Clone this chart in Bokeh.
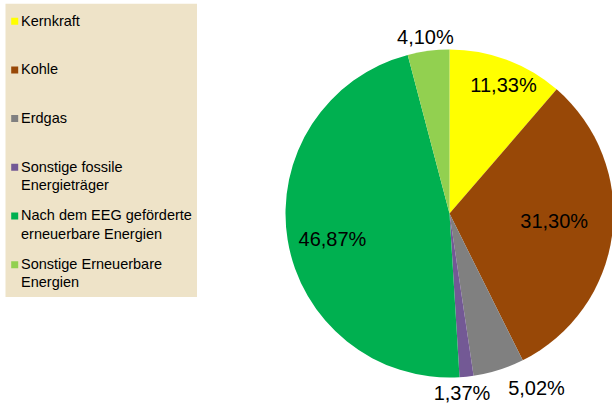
import math
from bokeh.plotting import figure
from bokeh.models import Range1d, ColumnDataSource
from bokeh.core.properties import value
from bokeh.embed import file_html
from bokeh.resources import INLINE

# ---- data ----
categories = ["Kernkraft", "Kohle", "Erdgas", "Sonstige fossile\nEnergieträger",
              "Nach dem EEG geförderte\nerneuerbare Energien", "Sonstige Erneuerbare\nEnergien"]
shares = [11.33, 31.30, 5.02, 1.37, 46.87, 4.10]
share_labels = ["11,33%", "31,30%", "5,02%", "1,37%", "46,87%", "4,10%"]
colors = ["#FFFF00", "#984807", "#808080", "#735995", "#00B050", "#92D050"]

# ---- style / layout ----
W, H = 612, 405
cx, cy, R = 449, 405 - 213, 164          # pie centre (data = page px, y up)
lbl_r = [0.85, 0.64, 1.19, 1.10, 0.73, 1.085]   # label radius factor
lbl_da = [-2.4, 3.2, 9.0, -2.0, 3.0, 0.4]       # angle tweak (deg)
FONT = value("Liberation Sans")

p = figure(width=W, height=H, output_backend="svg", toolbar_location=None,
           x_range=Range1d(0, W), y_range=Range1d(405 - H, 405),
           min_border=0, outline_line_color=None)
p.axis.visible = False
p.grid.visible = False
p.background_fill_color = "white"
p.border_fill_color = "white"

# wedges (clockwise from 12 o'clock)
total = sum(shares)
starts, ends, lx, ly = [], [], [], []
cum = 0.0
for i, s in enumerate(shares):
    a0 = math.pi / 2 - 2 * math.pi * (cum + s) / total
    a1 = math.pi / 2 - 2 * math.pi * cum / total
    starts.append(a0)
    ends.append(a1)
    mid = (a0 + a1) / 2 + math.radians(lbl_da[i])
    lx.append(cx + R * lbl_r[i] * math.cos(mid))
    ly.append(cy + R * lbl_r[i] * math.sin(mid))
    cum += s

src = ColumnDataSource(dict(start=starts, end=ends, color=colors,
                            lx=lx, ly=ly, lab=share_labels))
p.wedge(x=cx, y=cy, radius=R, start_angle="start", end_angle="end",
        fill_color="color", line_color=None, source=src)
p.text(x="lx", y="ly", text="lab", source=src, text_font=FONT,
       text_font_size="20px", text_align="center", text_baseline="middle",
       text_color="#000000")

# legend panel
p.quad(left=5, right=196.5, top=405 - 3.3, bottom=405 - 296.5, fill_color="#EEE3C8",
       line_color=None)
step = 48.7
first = 405 - 20.7
my = [first - i * step for i in range(len(categories))]
p.rect(x=[14.2] * len(categories), y=my, width=7, height=7,
       fill_color=colors, line_color=None)
p.text(x=[20.5] * len(categories), y=[m + 8.6 for m in my], text=categories,
       text_font=FONT, text_font_size="14.5px", text_align="left",
       text_baseline="top", text_line_height=1.15, text_color="#000000")

open("out.html", "w").write(file_html(p, INLINE))
